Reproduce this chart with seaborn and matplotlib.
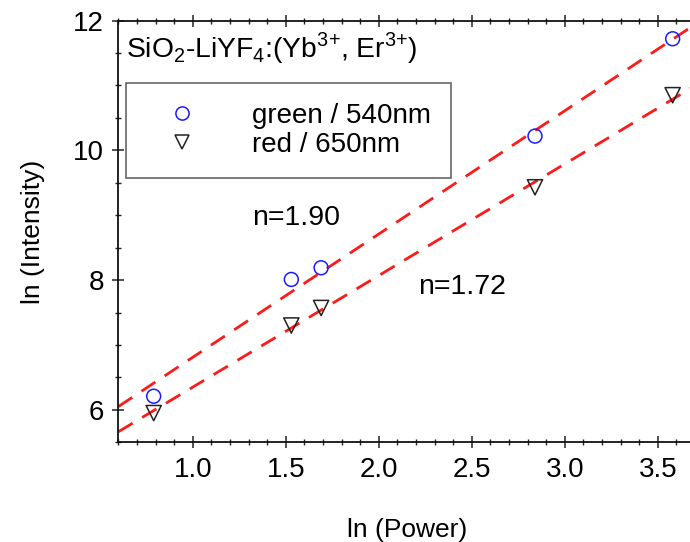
import numpy as np
import pandas as pd
import matplotlib
matplotlib.use("Agg")
import matplotlib.pyplot as plt
from matplotlib.ticker import MultipleLocator
from matplotlib.lines import Line2D
import seaborn as sns

# data
ln_power = [0.79, 1.53, 1.69, 2.84, 3.58]
green_540 = [6.21, 8.01, 8.19, 10.22, 11.72]
red_650 = [5.95, 7.30, 7.57, 9.43, 10.85]

# fitted lines (slope n, intercept)
green_fit = (1.90, 4.91)
red_fit = (1.72, 4.63)
fit_x = [0.6, 3.7]

sns.set_theme(style="ticks")
plt.rcParams["font.family"] = ["Liberation Sans", "DejaVu Sans"]
plt.rcParams["text.color"] = "black"
plt.rcParams["axes.labelcolor"] = "black"
plt.rcParams["xtick.labelcolor"] = "black"
plt.rcParams["ytick.labelcolor"] = "black"

fig = plt.figure(figsize=(6.9, 5.42), dpi=100)
ax = fig.add_axes([0.1715, 0.184, 0.8357, 0.778])

pts = pd.DataFrame({"x": ln_power, "green": green_540, "red": red_650})
lines = pd.DataFrame({
    "x": fit_x,
    "green": [green_fit[0] * v + green_fit[1] for v in fit_x],
    "red": [red_fit[0] * v + red_fit[1] for v in fit_x],
})

dash = (0, (6, 4))
sns.lineplot(data=lines, x="x", y="green", ax=ax, color="#ff1a1a", lw=2,
             linestyle=dash, zorder=1)
sns.lineplot(data=lines, x="x", y="red", ax=ax, color="#ff1a1a", lw=2,
             linestyle=dash, zorder=1)
sns.scatterplot(data=pts, x="x", y="green", ax=ax, marker="o", s=100,
                facecolor="none", edgecolor="#1a1aff", linewidth=1.1, zorder=3)
sns.scatterplot(data=pts, x="x", y="red", ax=ax, marker="v", s=120,
                facecolor="none", edgecolor="#222222", linewidth=1.1, zorder=3)

ax.set_xlim(0.6, 3.7)
ax.set_ylim(5.5, 12)
ax.set_xticks([1.0, 1.5, 2.0, 2.5, 3.0, 3.5])
ax.xaxis.set_minor_locator(MultipleLocator(0.1))
ax.yaxis.set_major_locator(MultipleLocator(2))
ax.yaxis.set_minor_locator(MultipleLocator(0.5))
ax.tick_params(which="both", direction="inout", top=True, right=False,
               labelsize=20, color="#222222", pad=6)
ax.tick_params(which="major", length=9, width=1.1)
ax.tick_params(which="minor", length=5, width=1)
for s in ax.spines.values():
    s.set_linewidth(1.3)
    s.set_color("#111111")
ax.spines["right"].set_visible(False)

ax.set_xlabel("ln (Power)", fontsize=19, labelpad=25)
ax.set_ylabel("ln (Intensity)", fontsize=19, labelpad=20)

ax.text(0.013, 0.935,
        "SiO$_{\\mathregular{2}}$-LiYF$_{\\mathregular{4}}$:(Yb$^{\\mathregular{3\\!+}}\\!$,"
        " Er$^{\\mathregular{3\\!+}}\\!$)",
        transform=ax.transAxes, fontsize=20.3, va="center", ha="left")
ax.text(0.232, 0.532, f"n={green_fit[0]:.2f}", transform=ax.transAxes,
        fontsize=20.5, va="center")
ax.text(0.52, 0.368, f"n={red_fit[0]:.2f}", transform=ax.transAxes,
        fontsize=20.5, va="center")

handles = [
    Line2D([], [], ls="none", marker="o", ms=9.5, mfc="none", mec="#1a1aff", mew=1.1),
    Line2D([], [], ls="none", marker="v", ms=10.5, mfc="none", mec="#222222", mew=1.1),
]
leg = ax.legend(handles, ["green / 540nm", "red / 650nm"], loc="upper left",
                bbox_to_anchor=(0.0135, 0.853), fontsize=20, frameon=True,
                fancybox=False, edgecolor="#666666", borderpad=0.72,
                handlelength=2.6, handletextpad=1.2, borderaxespad=0,
                labelspacing=0.12)
leg.get_frame().set_linewidth(1.2)
leg.get_frame().set_alpha(1)

fig.savefig("out.png", dpi=100)
